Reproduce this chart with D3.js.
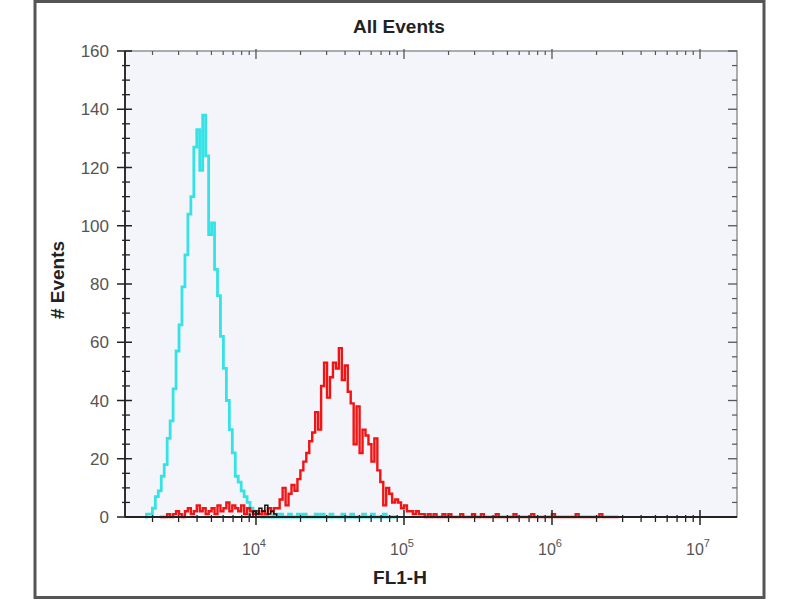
<!DOCTYPE html>
<html>
<head>
<meta charset="utf-8">
<script src="https://cdn.jsdelivr.net/npm/d3@7"></script>
<style>
  html, body { margin: 0; padding: 0; background: #fff; }
  svg { display: block; font-family: "Liberation Sans", Arial, sans-serif; }
</style>
</head>
<body>
<svg id="chart" width="800" height="600"></svg>
<script>
// ---- data ------------------------------------------------------------------
const TITLE = "All Events";
const X_LABEL = "FL1-H";
const Y_LABEL = "# Events";
const yTicks = [0, 20, 40, 60, 80, 100, 120, 140, 160];
const xDecades = [4, 5, 6, 7];           // labelled 10^k
const BIN = 0.02;                         // histogram bin width, log10 units

// cyan histogram: first bin centre (log10) + counts
const cyanStart = 3.25;
const cyanCounts = [
  0, 1, 1, 3, 7, 9, 14, 18, 27, 33,
  44, 57, 66, 79, 90, 104, 110, 127, 133, 119,
  138, 124, 97, 101, 85, 76, 62, 51, 40, 30,
  22, 14, 12, 9, 7, 5, 3, 2, 1, 1,
  0, 1, 0, 0, 1, 0, 1, 0, 0, 1,
  0, 0, 1, 0, 1, 0, 0, 0, 1, 0,
  1, 0, 0, 1, 0, 0, 0, 1, 0, 0,
  1, 0, 0, 0, 1, 0, 0, 1, 0, 0,
  0, 1, 0, 0, 0, 0
];

// red histogram
const redStart = 3.35;
const redCounts = [
  0, 0, 0, 1, 0, 1, 2, 1, 0, 2,
  3, 1, 2, 4, 2, 3, 1, 2, 3, 1,
  4, 2, 3, 5, 2, 4, 3, 2, 4, 1,
  3, 2, 1, 2, 1, 2, 1, 3, 2, 3,
  3, 6, 10, 4, 8, 11, 9, 13, 16, 19,
  22, 26, 29, 36, 30, 45, 53, 41, 48, 53,
  51, 58, 47, 52, 43, 39, 25, 38, 22, 30,
  28, 25, 19, 27, 16, 12, 4, 10, 8, 5,
  6, 5, 3, 4, 2, 2, 1, 2, 1, 1,
  0, 1, 0, 1, 0, 0, 1, 0, 1, 0,
  0, 0, 1, 0, 0, 0, 1, 0, 0, 1,
  0, 0, 0, 0, 1, 0, 0, 0, 0, 0,
  1, 0, 0, 0, 0, 0, 1, 0, 0, 0,
  0, 0, 0, 1, 0, 0, 0, 0, 0, 0,
  0, 1, 0, 0, 0, 0, 0, 0, 0, 1,
  0, 0, 0, 0, 0, 0
];

// small black trace where the two overlap
const blackStart = 3.95;
const blackCounts = [1, 0, 2, 1, 3, 2, 4, 1, 2, 1, 0];

// ---- layout ------------------------------------------------------------------
const svg = d3.select("#chart");
const P = { left: 125, right: 737, top: 51, bottom: 517 };

const x = d3.scaleLog().domain([Math.pow(10, 3.115), Math.pow(10, 7.25)]).range([P.left, P.right]);
const y = d3.scaleLinear().domain([0, 160]).range([P.bottom, P.top]);

// outer frame
svg.append("rect")
  .attr("x", 35).attr("y", 1.5).attr("width", 729).attr("height", 596)
  .attr("fill", "#fff").attr("stroke", "#555").attr("stroke-width", 3);

// plot background
svg.append("rect")
  .attr("x", P.left).attr("y", P.top)
  .attr("width", P.right - P.left).attr("height", P.bottom - P.top)
  .attr("fill", "#f4f5fa").attr("stroke", "#7a7a7a").attr("stroke-width", 1.2);

// ---- histograms -------------------------------------------------------------
function toBins(start, counts) {
  return counts.map((c, i) => ({ v: Math.pow(10, start + i * BIN), c: c }));
}
const line = d3.line().x((d) => x(d.v)).y((d) => y(d.c)).curve(d3.curveStep);

const series = [
  { bins: toBins(cyanStart, cyanCounts), color: "#35e3e6", w: 2.8 },
  { bins: toBins(redStart, redCounts), color: "#f01414", w: 2.4 },
  { bins: toBins(blackStart, blackCounts), color: "#111", w: 1.5 },
];
svg.append("g").selectAll("path").data(series).join("path")
  .attr("d", (s) => line(s.bins))
  .attr("fill", "none")
  .attr("stroke", (s) => s.color)
  .attr("stroke-width", (s) => s.w)
  .attr("stroke-linejoin", "miter");

// ---- axes -------------------------------------------------------------------
const gAx = svg.append("g").attr("stroke", "#222");

// minor / major x ticks (log)
const xMinor = x.ticks().filter((v) => {
  const k = Math.log10(v);
  return Math.abs(k - Math.round(k)) > 1e-6;
});
const xMajor = xDecades.map((k) => Math.pow(10, k));

// bottom
gAx.selectAll("line.xminb").data(xMinor).join("line")
  .attr("x1", (d) => x(d)).attr("x2", (d) => x(d))
  .attr("y1", P.bottom - 2).attr("y2", P.bottom + 5).attr("stroke-width", 1.3);
gAx.selectAll("line.xmajb").data(xMajor).join("line")
  .attr("x1", (d) => x(d)).attr("x2", (d) => x(d))
  .attr("y1", P.bottom - 7).attr("y2", P.bottom + 8).attr("stroke-width", 1.5);
// top
gAx.selectAll("line.xmint").data(xMinor).join("line")
  .attr("x1", (d) => x(d)).attr("x2", (d) => x(d))
  .attr("y1", P.top).attr("y2", P.top + 4).attr("stroke-width", 1.2).attr("stroke", "#555");
gAx.selectAll("line.xmajt").data(xMajor).join("line")
  .attr("x1", (d) => x(d)).attr("x2", (d) => x(d))
  .attr("y1", P.top - 2).attr("y2", P.top + 8).attr("stroke-width", 1.3).attr("stroke", "#555");

// y ticks, minor every 5
const yMinor = d3.range(5, 160, 5).filter((v) => v % 20 !== 0);
gAx.selectAll("line.ymin").data(yMinor).join("line")
  .attr("x1", P.left - 3).attr("x2", P.left + 5)
  .attr("y1", (d) => y(d)).attr("y2", (d) => y(d)).attr("stroke-width", 1.3);
gAx.selectAll("line.ymaj").data(yTicks).join("line")
  .attr("x1", P.left - 8).attr("x2", P.left + 7)
  .attr("y1", (d) => y(d)).attr("y2", (d) => y(d)).attr("stroke-width", 1.5);
// right mirror
gAx.selectAll("line.yminr").data(yMinor).join("line")
  .attr("x1", P.right - 5).attr("x2", P.right)
  .attr("y1", (d) => y(d)).attr("y2", (d) => y(d)).attr("stroke-width", 1.2).attr("stroke", "#555");
gAx.selectAll("line.ymajr").data(yTicks).join("line")
  .attr("x1", P.right - 9).attr("x2", P.right)
  .attr("y1", (d) => y(d)).attr("y2", (d) => y(d)).attr("stroke-width", 1.3).attr("stroke", "#555");

// axis lines on top of the data
gAx.append("line").attr("x1", P.left).attr("x2", P.right)
  .attr("y1", P.bottom).attr("y2", P.bottom).attr("stroke-width", 1.8);
gAx.append("line").attr("x1", P.left).attr("x2", P.left)
  .attr("y1", P.top).attr("y2", P.bottom).attr("stroke-width", 1.8);

// ---- text -------------------------------------------------------------------
svg.append("g").selectAll("text").data(yTicks).join("text")
  .attr("x", 109).attr("y", (d) => y(d)).attr("dy", "0.36em")
  .attr("text-anchor", "end").attr("font-size", 17).attr("fill", "#555")
  .text((d) => d);

const xl = svg.append("g").selectAll("text").data(xDecades).join("text")
  .attr("x", (k) => x(Math.pow(10, k)) - 2).attr("y", 555)
  .attr("text-anchor", "middle").attr("font-size", 16).attr("fill", "#555");
xl.append("tspan").text("10");
xl.append("tspan").attr("dy", -8).attr("font-size", 11).text((k) => k);

svg.append("text").attr("x", 399).attr("y", 33)
  .attr("text-anchor", "middle").attr("font-size", 19).attr("font-weight", "bold").attr("fill", "#222")
  .text(TITLE);
svg.append("text").attr("x", 400).attr("y", 584)
  .attr("text-anchor", "middle").attr("font-size", 19).attr("font-weight", "bold").attr("fill", "#222")
  .text(X_LABEL);
svg.append("text").attr("transform", "translate(64,280) rotate(-90)")
  .attr("text-anchor", "middle").attr("font-size", 19).attr("font-weight", "bold").attr("fill", "#222")
  .text(Y_LABEL);
</script>
</body>
</html>
